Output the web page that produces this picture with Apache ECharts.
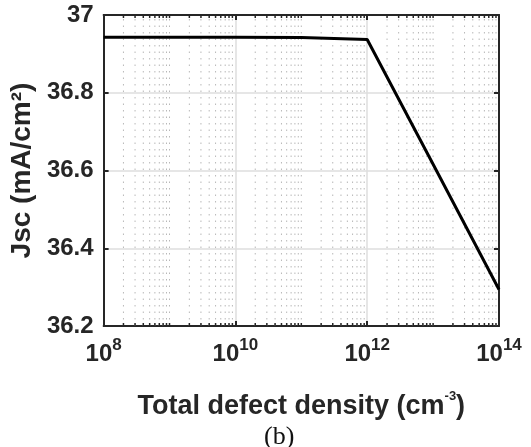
<!DOCTYPE html>
<html>
<head>
<meta charset="utf-8">
<script src="https://cdn.jsdelivr.net/npm/echarts@6/dist/echarts.min.js"></script>
<style>html,body{margin:0;padding:0;background:#fff;}#c{width:531px;height:447px;}</style>
</head>
<body>
<div id="c"></div>
<script>
// ---- data ----
const defectDensity = [1e8, 1e9, 1e10, 1e11, 1e12, 1e13, 1e14];
const jscValues = [36.943, 36.943, 36.943, 36.942, 36.937, 36.616, 36.294];
const xExponentRange = [8, 14];
const yRange = [36.2, 37];
const yTickStep = 0.2;
const xTitle = 'Total defect density (cm';
const xTitleSup = '-3';
const yTitle = 'Jsc (mA/cm\u00B2)';
const caption = '(b)';

// minor (2..9 per decade) positions for the log axis
const minorX = [];
for (let e = xExponentRange[0]; e < xExponentRange[1]; e++) {
  for (let k = 2; k <= 10; k++) {
    const v = k * Math.pow(10, e);
    const ex = Math.log10(v);
    if (Math.abs(ex - Math.round(ex)) < 1e-9 && Math.round(ex) % 2 === 0) continue;
    minorX.push([v, yRange[0]]);
  }
}

const FONT = '"Liberation Sans", Arial, sans-serif';
const INK = '#262626';

const chart = echarts.init(document.getElementById('c'), null, {renderer: 'canvas'});
const xBase = {
  type: 'log', logBase: 10,
  min: Math.pow(10, xExponentRange[0]), max: Math.pow(10, xExponentRange[1]),
  interval: 2,
  axisLine: {show: true, lineStyle: {color: INK, width: 2}},
  axisTick: {show: true, inside: true, length: 5, lineStyle: {color: INK, width: 2}},
  minorTick: {show: false}, minorSplitLine: {show: false}
};
const yBase = {
  type: 'value', min: yRange[0], max: yRange[1], interval: yTickStep,
  axisLine: {show: true, lineStyle: {color: INK, width: 2}},
  axisTick: {show: true, inside: true, length: 5, lineStyle: {color: INK, width: 2}}
};

chart.setOption({
  animation: false,
  backgroundColor: '#fff',
  grid: {left: 102.5, right: 32, top: 15, bottom: 121, containLabel: false},
  xAxis: [
    Object.assign({}, xBase, {
      position: 'bottom',
      name: '{t|' + xTitle + '}{s|' + xTitleSup + '}{t|)}',
      nameLocation: 'middle', nameGap: 64,
      nameTextStyle: {
        rich: {
          t: {fontFamily: FONT, fontWeight: 'bold', fontSize: 27, color: INK},
          s: {fontFamily: FONT, fontWeight: 'bold', fontSize: 13, color: INK, padding: [0, 0, 20, 0]}
        }
      },
      splitLine: {show: true, lineStyle: {color: '#dedede', width: 1.5}},
      axisLabel: {
        margin: 11,
        formatter: function (v) {
          const e = Math.round(Math.log10(v));
          return '{b|10}{s|' + e + '}';
        },
        rich: {
          b: {fontFamily: FONT, fontWeight: 'bold', fontSize: 24, color: INK},
          s: {fontFamily: FONT, fontWeight: 'bold', fontSize: 17, color: INK, padding: [0, 0, 18, 0]}
        }
      }
    }),
    Object.assign({}, xBase, {
      position: 'top',
      axisLabel: {show: false}, splitLine: {show: false}
    })
  ],
  yAxis: [
    Object.assign({}, yBase, {
      position: 'left',
      name: yTitle, nameLocation: 'middle', nameRotate: 90, nameGap: 62,
      nameTextStyle: {fontFamily: FONT, fontWeight: 'bold', fontSize: 28, color: INK},
      splitLine: {show: true, lineStyle: {color: '#dedede', width: 1.5}},
      axisLabel: {margin: 10, fontFamily: FONT, fontWeight: 'bold', fontSize: 24, color: INK}
    }),
    Object.assign({}, yBase, {
      position: 'right',
      axisLabel: {show: false}, splitLine: {show: false}
    })
  ],
  graphic: [{
    type: 'text', left: 264, top: 424,
    style: {text: caption, font: '26px "Liberation Serif", "Times New Roman", serif', fill: '#111'}
  }],
  series: [
    {
      type: 'custom', xAxisIndex: 0, yAxisIndex: 0, z: 1, silent: true,
      data: minorX,
      renderItem: function (params, api) {
        const x = api.value(0);
        const p0 = api.coord([x, yRange[0]]);
        const p1 = api.coord([x, yRange[1]]);
        return {
          type: 'group',
          children: [
            {type: 'line', shape: {x1: p0[0], y1: p0[1], x2: p1[0], y2: p1[1]},
             style: {stroke: '#b8b8b8', lineWidth: 1, lineDash: [1.5, 5]}},
            {type: 'line', shape: {x1: p0[0], y1: p0[1], x2: p0[0], y2: p0[1] - 3},
             style: {stroke: INK, lineWidth: 1.5}},
            {type: 'line', shape: {x1: p1[0], y1: p1[1], x2: p1[0], y2: p1[1] + 3},
             style: {stroke: INK, lineWidth: 1.5}}
          ]
        };
      }
    },
    {
      type: 'line', xAxisIndex: 0, yAxisIndex: 0, z: 5,
      data: defectDensity.map((x, i) => [x, jscValues[i]]),
      showSymbol: false, symbol: 'none',
      lineStyle: {color: '#000', width: 3}
    }
  ]
});
</script>
</body>
</html>
